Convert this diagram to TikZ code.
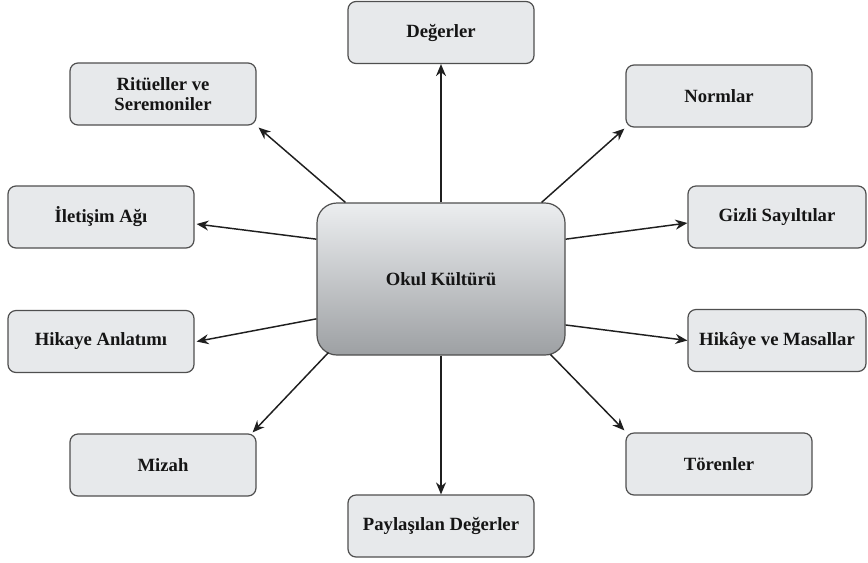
\documentclass[tikz,border=0pt]{standalone}
\usepackage{fontspec}
\setmainfont{Liberation Serif}
\usetikzlibrary{arrows.meta,calc}
\definecolor{boxfill}{HTML}{E7E9EB}
\definecolor{boxline}{HTML}{4F4F4F}
\definecolor{txt}{HTML}{151515}
\definecolor{coretop}{HTML}{ECEEF0}
\definecolor{corebot}{HTML}{9DA0A3}
\begin{document}
\begin{tikzpicture}[x=0.75pt,y=-0.75pt,
  box/.style={draw=boxline,line width=0.9pt,fill=boxfill,rounded corners=6pt,
    minimum width=139.5pt,minimum height=46.5pt,align=center,inner sep=2pt,
    font=\bfseries\fontsize{14}{15}\selectfont,text=txt},
  narrowbox/.style={box,minimum width=133.5pt},
  core/.style={draw=boxline,line width=0.9pt,top color=coretop,bottom color=corebot,
    rounded corners=15pt,minimum width=186pt,minimum height=114pt,
    font=\bfseries\fontsize{14}{15}\selectfont,text=txt},
  link/.style={-{Stealth[length=9pt,width=7.5pt]},line width=1.1pt,draw=black!88}]
\useasboundingbox (0,0) rectangle (868,562);
\node[core] (c) at (441,279) {Okul Kültürü};
\node[box] (d) at (441,32.5) {Değerler};
\node[box] (r) at (163,94) {Ritüeller ve\\Seremoniler};
\node[box] (n) at (719,96) {Normlar};
\node[box] (i) at (101,217) {İletişim Ağı};
\node[narrowbox] (g) at (777,217) {Gizli Sayıltılar};
\node[box] (h) at (101,341.5) {Hikaye Anlatımı};
\node[narrowbox] (hm) at (777,340.5) {Hikâye ve Masallar};
\node[box] (m) at (163,465) {Mizah};
\node[box] (t) at (719,464) {Törenler};
\node[box] (p) at (441,526) {Paylaşılan Değerler};
\draw[link] (c.north) -- (d.south);
\draw[link] ($(c.north west)+(29,0)$) -- ($(r.south east)+(2,2)$);
\draw[link] ($(c.north east)+(-24,0)$) -- ($(n.south west)+(-1,1)$);
\draw[link] ($(c.north west)!0.24!(c.south west)$) -- ($(i.east)+(2,7)$);
\draw[link] ($(c.north east)!0.24!(c.south east)$) -- ($(g.west)+(0,6)$);
\draw[link] ($(c.north west)!0.76!(c.south west)$) -- ($(h.east)+(2,0)$);
\draw[link] ($(c.north east)!0.8!(c.south east)$) -- (hm.west);
\draw[link] ($(c.south west)+(12,-3)$) -- ($(m.north east)+(-4,-1)$);
\draw[link] ($(c.south east)+(-15,-1)$) -- ($(t.north west)+(-1,-2)$);
\draw[link] (c.south) -- (p.north);
\end{tikzpicture}
\end{document}
